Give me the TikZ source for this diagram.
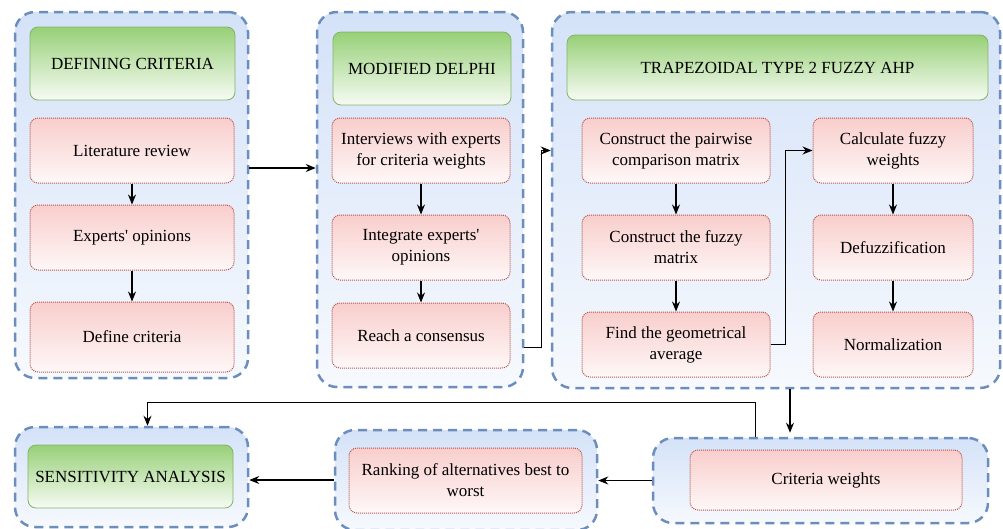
\documentclass[tikz,border=0pt]{standalone}
\usepackage{fontspec}
\setmainfont{Liberation Serif}
\usetikzlibrary{arrows.meta, positioning, calc}
\definecolor{contline}{RGB}{108, 142, 191}
\definecolor{contfill}{RGB}{212, 226, 248}
\definecolor{headline}{RGB}{130, 179, 102}
\definecolor{headfill}{RGB}{151, 208, 119}
\definecolor{stepline}{RGB}{184, 84, 80}
\definecolor{stepfill}{RGB}{248, 206, 204}

\begin{document}
\begin{tikzpicture}[x=1pt, y=-1pt,
    cont/.style={rectangle, rounded corners=20pt, draw=contline, line width=2.5pt,
                 dash pattern=on 9pt off 6pt, top color=contfill, bottom color=contfill!20},
    head/.style={rectangle, rounded corners=8pt, draw=headline, line width=0.8pt,
                 top color=headfill, bottom color=headfill!8, align=center,
                 font=\fontsize{17}{21}\selectfont},
    stepbox/.style={rectangle, rounded corners=8pt, draw=stepline, line width=1pt,
                 dash pattern=on 1pt off 1pt, top color=stepfill, bottom color=stepfill!15,
                 align=center, inner sep=2pt, font=\fontsize{17}{21}\selectfont},
    arr/.style={-{Stealth[length=10pt, width=8pt]}, line width=1.2pt}]
    \useasboundingbox (0,0) rectangle (1003,528);

    % Containers
    \node[cont, minimum width=233pt, minimum height=366pt] (c1) at (131.5,195) {};
    \node[cont, minimum width=206pt, minimum height=375pt] (c2) at (420,199.5) {};
    \node[cont, minimum width=448pt, minimum height=376pt] (c3) at (776,200) {};
    \node[cont, minimum width=233pt, minimum height=100pt] (c4) at (131.5,477) {};
    \node[cont, minimum width=262pt, minimum height=100pt] (c5) at (466,480) {};
    \node[cont, minimum width=335pt, minimum height=85pt] (c6) at (820.5,480.5) {};

    % Defining criteria
    \node[head, minimum width=205pt, minimum height=73pt] (h1) at (132.5,63.5) {DEFINING CRITERIA};
    \node[stepbox, minimum width=204pt, minimum height=65pt] (lit) at (132,150.5) {Literature review};
    \node[stepbox, minimum width=204pt, minimum height=65pt] (exp) at (132,237.5) {Experts\textquotesingle{} opinions};
    \node[stepbox, minimum width=204pt, minimum height=70pt] (defc) at (132,337) {Define criteria};

    % Modified Delphi
    \node[head, minimum width=178pt, minimum height=73pt] (h2) at (422,68.5) {MODIFIED DELPHI};
    \node[stepbox, minimum width=178pt, minimum height=65pt] (interv) at (421,150.5) {Interviews with experts\\for criteria weights};
    \node[stepbox, minimum width=178pt, minimum height=65pt] (integ) at (421,247.5) {Integrate experts\textquotesingle\\opinions};
    \node[stepbox, minimum width=178pt, minimum height=65pt] (reach) at (421,335.5) {Reach a consensus};

    % Fuzzy AHP
    \node[head, minimum width=421pt, minimum height=65pt] (h3) at (777.5,67.5) {TRAPEZOIDAL TYPE 2 FUZZY AHP};
    \node[stepbox, minimum width=188pt, minimum height=65pt] (pair) at (676,150.5) {Construct the pairwise\\comparison matrix};
    \node[stepbox, minimum width=188pt, minimum height=65pt] (fuzzm) at (676,247.5) {Construct the fuzzy\\matrix};
    \node[stepbox, minimum width=188pt, minimum height=65pt] (geom) at (676,344.5) {Find the geometrical\\average};
    \node[stepbox, minimum width=160pt, minimum height=65pt] (calc) at (893,150.5) {Calculate fuzzy\\weights};
    \node[stepbox, minimum width=160pt, minimum height=65pt] (defuz) at (893,247.5) {Defuzzification};
    \node[stepbox, minimum width=160pt, minimum height=65pt] (norm) at (893,344.5) {Normalization};

    % Bottom row
    \node[head, minimum width=205pt, minimum height=63pt] (h4) at (130.5,476.5) {SENSITIVITY ANALYSIS};
    \node[stepbox, minimum width=233pt, minimum height=65pt] (rank) at (465.5,480.5) {Ranking of alternatives best to\\worst};
    \node[stepbox, minimum width=272pt, minimum height=60pt] (cw) at (826,480) {Criteria weights};

    % Arrows inside
    \draw[arr] (lit) -- (exp);
    \draw[arr] (exp) -- (defc);
    \draw[arr] (interv) -- (integ);
    \draw[arr] (integ) -- (reach);
    \draw[arr] (pair) -- (fuzzm);
    \draw[arr] (fuzzm) -- (geom);
    \draw[arr] (calc) -- (defuz);
    \draw[arr] (defuz) -- (norm);
    \draw[arr] (geom.east) -- ++(15,0) |- (calc.west);

    % Arrows between containers
    \draw[arr] ([yshift=27pt]c1.east) -- ([yshift=27pt]c1.east -| c2.west);
    \draw[arr] ([yshift=-148pt]c2.east) -- ++(17,0) |- (pair.west -| c3.west);
    \draw[arr] ([xshift=14pt]c3.south) -- ([xshift=14pt, yshift=4pt]c3.south |- c6.north);
    \draw[arr] ([xshift=-65pt]c6.north) -- ++(0,-34) -| ([xshift=16pt]c4.north);
    \draw[arr] (c6.west) -- (c6.west -| c5.east);
    \draw[arr] (c5.west) -- (c5.west -| c4.east);
\end{tikzpicture}
\end{document}
